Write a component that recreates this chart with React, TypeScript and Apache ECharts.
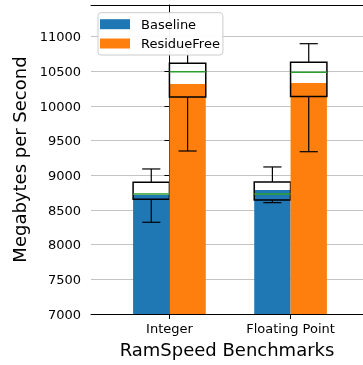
import React, { useEffect, useRef } from "react";
import * as echarts from "echarts";

const categories = ["Integer", "Floating Point"];
const seriesNames = ["Baseline", "ResidueFree"];
const colors = ["#1f77b4", "#ff7f0e"];
const yTicks = [7000, 7500, 8000, 8500, 9000, 9500, 10000, 10500, 11000];

// bar heights (mean)
const baselineMean = [8717, 8789];
const residueMean = [10318, 10332];
// box statistics
const baselineQ1 = [8655, 8645];
const baselineMedian = [8731, 8731];
const baselineQ3 = [8900, 8903];
const baselineLow = [8323, 8606];
const baselineHigh = [9092, 9121];
const residueQ1 = [10130, 10137];
const residueMedian = [10495, 10486];
const residueQ3 = [10617, 10631];
const residueLow = [9351, 9341];
const residueHigh = [10880, 10899];

const BAR_W = 0.3;

function buildData(mean: number[], q1: number[], med: number[], q3: number[], lo: number[], hi: number[], offset: number) {
  return categories.map((_, i) => [i + offset, mean[i], q1[i], med[i], q3[i], lo[i], hi[i]]);
}

export default function App() {
  const ref = useRef<HTMLDivElement>(null);
  useEffect(() => {
    if (!ref.current) return;
    const chart = echarts.init(ref.current, null, { renderer: "svg" });
    const renderItem = (color: string) => (params: any, api: any) => {
      const x = api.value(0);
      const top = api.coord([x, api.value(1)]);
      const base = api.coord([x, 7000]);
      const q1 = api.coord([x, api.value(2)])[1];
      const med = api.coord([x, api.value(3)])[1];
      const q3 = api.coord([x, api.value(4)])[1];
      const lo = api.coord([x, api.value(5)])[1];
      const hi = api.coord([x, api.value(6)])[1];
      const hw = api.size([BAR_W / 2, 0])[0];
      const cx = top[0];
      const black = { stroke: "#000", lineWidth: 1.2 };
      return {
        type: "group",
        children: [
          { type: "rect", shape: { x: cx - hw, y: top[1], width: 2 * hw, height: base[1] - top[1] }, style: { fill: color } },
          { type: "line", shape: { x1: cx, y1: q1, x2: cx, y2: lo }, style: black },
          { type: "line", shape: { x1: cx, y1: q3, x2: cx, y2: hi }, style: black },
          { type: "line", shape: { x1: cx - hw / 2, y1: lo, x2: cx + hw / 2, y2: lo }, style: black },
          { type: "line", shape: { x1: cx - hw / 2, y1: hi, x2: cx + hw / 2, y2: hi }, style: black },
          { type: "rect", shape: { x: cx - hw, y: q3, width: 2 * hw, height: q1 - q3 }, style: { fill: "none", stroke: "#000", lineWidth: 1.5 } },
          { type: "line", shape: { x1: cx - hw, y1: med, x2: cx + hw, y2: med }, style: { stroke: "#2ca02c", lineWidth: 1.5 } },
        ],
      };
    };
    const xMin = -0.6475;
    const xMax = 1.598;
    chart.setOption({
      animation: false,
      grid: { left: 91, top: 5, right: -2, bottom: 51 },
      legend: {
        left: 98,
        top: 12.7,
        orient: "vertical",
        padding: [5, 3, 5, 2],
        itemWidth: 30,
        itemHeight: 10,
        itemGap: 6.3,
        borderColor: "#cccccc",
        borderWidth: 1,
        borderRadius: 3,
        backgroundColor: "rgba(255,255,255,0.95)",
        textStyle: { fontFamily: "DejaVu Sans", fontSize: 13, color: "#000", lineHeight: 13, padding: [0, 0, 0, 6] },
        data: seriesNames.map((n, i) => ({ name: n, icon: "rect", itemStyle: { color: colors[i] } })),
      },
      xAxis: [
        {
          type: "value",
          min: xMin,
          max: xMax,
          name: "RamSpeed Benchmarks",
          nameLocation: "middle",
          nameGap: 26,
          nameTextStyle: { fontFamily: "DejaVu Sans", fontSize: 18, color: "#000" },
          axisLine: { show: true, lineStyle: { color: "#000", width: 1 } },
          axisTick: { show: true, length: 5, lineStyle: { color: "#000" }, customValues: [0, 1] },
          axisLabel: {
            fontFamily: "DejaVu Sans",
            fontSize: 13,
            color: "#000",
            margin: 8,
            customValues: [0, 1],
            formatter: (v: number) => (Math.abs(v - Math.round(v)) < 1e-6 && categories[Math.round(v)] ? categories[Math.round(v)] : ""),
          },
          splitLine: { show: false },
        },
        {
          type: "value",
          position: "top",
          min: xMin,
          max: xMax,
          axisLine: { show: true, lineStyle: { color: "#000", width: 1 } },
          axisTick: { show: false },
          axisLabel: { show: false },
          splitLine: { show: false },
        },
      ],
      yAxis: {
        type: "value",
        min: 7000,
        max: 11457,
        interval: 500,
        name: "Megabytes per Second",
        nameLocation: "middle",
        nameGap: 57,
        nameTextStyle: { fontFamily: "DejaVu Sans", fontSize: 18, color: "#000" },
        axisLine: { show: true, lineStyle: { color: "#000", width: 1 } },
        axisTick: { show: true, length: 5, lineStyle: { color: "#000" }, customValues: yTicks },
        axisLabel: {
          fontFamily: "DejaVu Sans",
          fontSize: 13,
          color: "#000",
          margin: 10,
          customValues: yTicks,
          formatter: (v: number) => (v % 500 === 0 ? String(v) : ""),
        },
        splitLine: { show: true, lineStyle: { color: "#c4c4c4", width: 1 } },
      },
      series: [
        {
          type: "custom",
          name: seriesNames[0],
          itemStyle: { color: colors[0] },
          renderItem: renderItem(colors[0]),
          encode: { x: 0, y: [1, 2, 3, 4, 5, 6] },
          data: buildData(baselineMean, baselineQ1, baselineMedian, baselineQ3, baselineLow, baselineHigh, -BAR_W / 2),
        },
        {
          type: "custom",
          name: seriesNames[1],
          itemStyle: { color: colors[1] },
          renderItem: renderItem(colors[1]),
          encode: { x: 0, y: [1, 2, 3, 4, 5, 6] },
          data: buildData(residueMean, residueQ1, residueMedian, residueQ3, residueLow, residueHigh, BAR_W / 2),
        },
      ],
    });
    return () => chart.dispose();
  }, []);
  return <div ref={ref} style={{ position: "fixed", left: 0, top: 0, width: 363, height: 365 }} />;
}
